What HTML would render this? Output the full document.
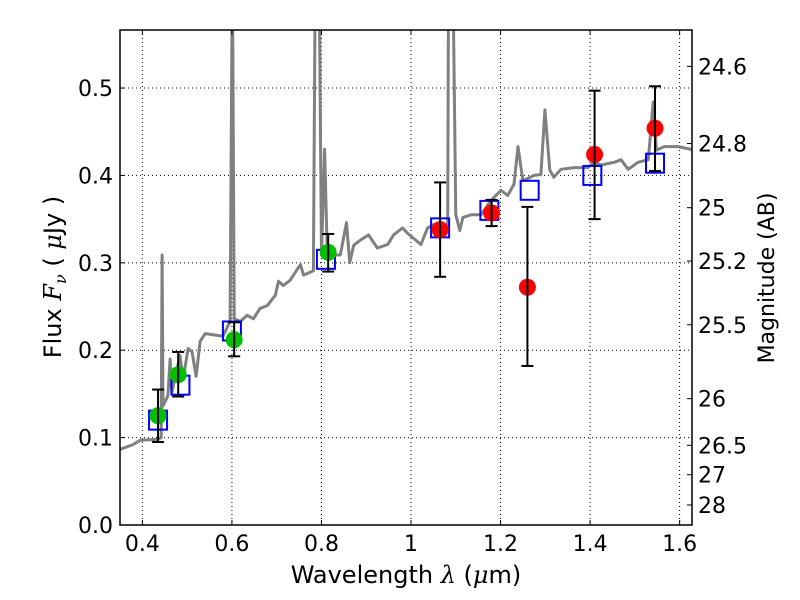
<!DOCTYPE html>
<html><head><meta charset="utf-8"><style>
html,body{margin:0;padding:0;background:#fff;}
svg{display:block;font-family:"DejaVu Sans","Liberation Sans",sans-serif;}
</style></head><body>
<svg id="chart" width="800" height="600" viewBox="0 0 800 600">
<defs><clipPath id="clip"><rect x="120" y="30" width="572" height="495"/></clipPath></defs>
<rect x="0" y="0" width="800" height="600" fill="#fff"/>
<g id="grid"></g>
<g id="spec" clip-path="url(#clip)"></g>
<g id="marks"></g>
<rect x="120" y="30" width="572" height="495" fill="none" stroke="#000" stroke-width="1.5"/>
<g id="axes"></g>
<text x="406" y="583" font-size="24" text-anchor="middle">Wavelength  <tspan font-style="italic" font-family="DejaVu Serif,serif">λ</tspan> (<tspan font-style="italic" font-family="DejaVu Serif,serif">μ</tspan>m)</text>
<text transform="translate(61,277) rotate(-90)" font-size="24" text-anchor="middle">Flux  <tspan font-style="italic" font-family="DejaVu Serif,serif">F<tspan font-size="16" dy="5">ν</tspan></tspan><tspan dy="-5">  ( </tspan><tspan font-style="italic" font-family="DejaVu Serif,serif">μ</tspan>Jy )</text>
<text transform="translate(774,278) rotate(-90)" font-size="22" text-anchor="middle">Magnitude (AB)</text>
</svg>
<script>
const xTicks=[0.4,0.6,0.8,1.0,1.2,1.4,1.6];
const xTickLabels=["0.4","0.6","0.8","1","1.2","1.4","1.6"];
const yTicks=[0,0.1,0.2,0.3,0.4,0.5];
const yTickLabels=["0.0","0.1","0.2","0.3","0.4","0.5"];
const magTicks=[24.6,24.8,25,25.2,25.5,26,26.5,27,28];
const magTickLabels=["24.6","24.8","25","25.2","25.5","26","26.5","27","28"];
const specWave=[0.35,0.379,0.395,0.433,0.442,0.444,0.446,0.457,0.462,0.466,0.484,0.491,0.502,0.511,0.52,0.529,0.54,0.567,0.58,0.596,0.601,0.605,0.619,0.634,0.648,0.663,0.679,0.697,0.704,0.715,0.73,0.753,0.76,0.782,0.786,0.795,0.80,0.807,0.813,0.842,0.856,0.863,0.872,0.887,0.905,0.925,0.948,0.961,0.981,0.992,1.022,1.037,1.051,1.066,1.082,1.084,1.093,1.1,1.109,1.116,1.134,1.156,1.178,1.201,1.216,1.23,1.239,1.25,1.275,1.29,1.299,1.31,1.319,1.335,1.364,1.395,1.409,1.425,1.454,1.469,1.485,1.507,1.53,1.541,1.548,1.566,1.597,1.633];
const specFlux=[0.0865,0.092,0.097,0.098,0.100,0.309,0.136,0.148,0.19,0.152,0.194,0.167,0.202,0.198,0.17,0.21,0.219,0.217,0.216,0.233,0.65,0.236,0.233,0.24,0.236,0.248,0.251,0.263,0.279,0.274,0.28,0.298,0.286,0.291,0.62,0.62,0.309,0.43,0.309,0.309,0.346,0.30,0.32,0.326,0.332,0.317,0.321,0.332,0.34,0.334,0.321,0.34,0.344,0.34,0.344,0.65,0.65,0.355,0.337,0.352,0.355,0.355,0.371,0.383,0.377,0.39,0.433,0.394,0.40,0.401,0.475,0.406,0.398,0.407,0.409,0.409,0.415,0.412,0.415,0.418,0.407,0.415,0.418,0.484,0.429,0.433,0.433,0.429];
const greenWave=[0.435,0.48,0.605,0.815];
const greenFlux=[0.125,0.172,0.212,0.312];
const greenLo=[0.095,0.147,0.193,0.290];
const greenHi=[0.155,0.198,0.232,0.333];
const redWave=[1.065,1.18,1.26,1.41,1.545];
const redFlux=[0.338,0.357,0.272,0.424,0.454];
const redLo=[0.284,0.342,0.182,0.350,0.405];
const redHi=[0.392,0.372,0.364,0.497,0.502];
const modelWave=[0.435,0.485,0.60,0.81,1.065,1.175,1.265,1.405,1.545];
const modelFlux=[0.120,0.160,0.222,0.304,0.340,0.360,0.383,0.400,0.414];

const NS="http://www.w3.org/2000/svg";
const X0=120,X1=692,Y0=525,Y1=30,xmin=0.35,xmax=1.6276,ymin=0,ymax=0.5664;
function sx(v){return X0+(v-xmin)/(xmax-xmin)*(X1-X0);}
function sy(v){return Y0-(v-ymin)/(ymax-ymin)*(Y0-Y1);}
function magToFlux(m){return Math.pow(10,(23.9-m)/2.5);}
function mk(tag,at,parent){const e=document.createElementNS(NS,tag);for(const k in at)e.setAttribute(k,at[k]);parent.appendChild(e);return e;}
const grid=document.getElementById('grid'),axes=document.getElementById('axes'),spec=document.getElementById('spec'),marks=document.getElementById('marks');

xTicks.forEach((t,i)=>{const x=sx(t);
 const g=mk('line',{x1:x,x2:x,y1:Y1,y2:Y0,stroke:'#000','stroke-width':1,'stroke-dasharray':'1,3'},grid);
 
 const a=mk('line',{x1:x,x2:x,y1:Y0,y2:Y0-5,stroke:'#000'},axes);
 
 const b=mk('line',{x1:x,x2:x,y1:Y1,y2:Y1+5,stroke:'#000'},axes);
 
 const tx=mk('text',{x:x,y:551,'font-size':22,'text-anchor':'middle'},axes);tx.textContent=xTickLabels[i];
 });
yTicks.forEach((t,i)=>{const y=sy(t);
 const g=mk('line',{x1:X0,x2:X1,y1:y,y2:y,stroke:'#000','stroke-width':1,'stroke-dasharray':'1,3'},grid);
 
 const a=mk('line',{x1:X0,x2:X0+5,y1:y,y2:y,stroke:'#000'},axes);
 
 const tx=mk('text',{x:113,y:y+8,'font-size':22,'text-anchor':'end'},axes);tx.textContent=yTickLabels[i];
 });
magTicks.forEach((m,i)=>{const y=sy(magToFlux(m));
 const a=mk('line',{x1:X1,x2:X1-5,y1:y,y2:y,stroke:'#000'},axes);
 
 const tx=mk('text',{x:698,y:y+8,'font-size':22,'text-anchor':'start'},axes);tx.textContent=magTickLabels[i];
 });

const pl=mk('polyline',{points:specWave.map((w,i)=>sx(w).toFixed(1)+','+sy(specFlux[i]).toFixed(1)).join(' '),fill:'none',stroke:'#808080','stroke-width':3,'stroke-linejoin':'round'},spec);



function errbar(w,lo,hi){const x=sx(w);
 const l=mk('line',{x1:x,x2:x,y1:sy(lo),y2:sy(hi),stroke:'#000','stroke-width':2},marks);
 
 [lo,hi].forEach(v=>{const c=mk('line',{x1:x-6,x2:x+6,y1:sy(v),y2:sy(v),stroke:'#000','stroke-width':2},marks);
 });}
modelWave.forEach((w,i)=>{const r=mk('rect',{x:sx(w)-9,y:sy(modelFlux[i])-9.5,width:18,height:19,fill:'none',stroke:'#0000ff','stroke-width':2},marks);
 });
greenWave.forEach((w,i)=>{const c=mk('circle',{cx:sx(w),cy:sy(greenFlux[i]),r:8.5,fill:'#00c000'},marks);
 
 errbar(w,greenLo[i],greenHi[i]);});
redWave.forEach((w,i)=>{const c=mk('circle',{cx:sx(w),cy:sy(redFlux[i]),r:8.5,fill:'#ff0000'},marks);
 
 errbar(w,redLo[i],redHi[i]);});
</script>
</body></html>
